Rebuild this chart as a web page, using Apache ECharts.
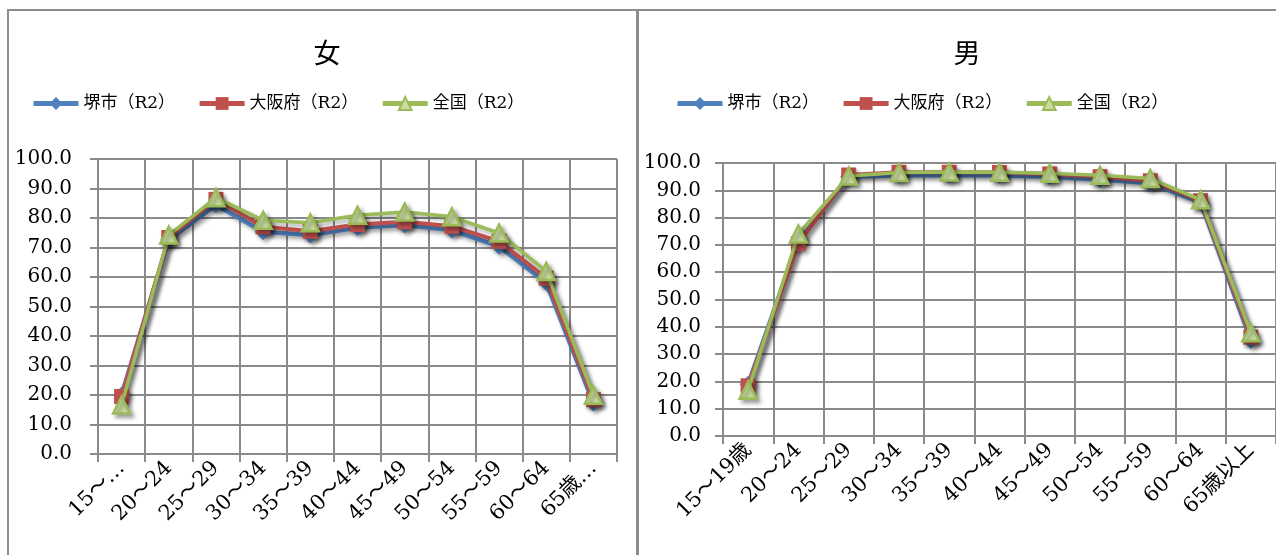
<!DOCTYPE html>
<html><head><meta charset="utf-8">
<script src="https://cdn.jsdelivr.net/npm/echarts@6/dist/echarts.min.js"></script>
<style>html,body{margin:0;padding:0;background:#fff;}#c{width:1276px;height:555px;}</style>
</head><body><div id="c"></div>
<script>
const categories = ['15～19歳','20～24','25～29','30～34','35～39','40～44','45～49','50～54','55～59','60～64','65歳以上'];
const femaleLabels = ['15～…','20～24','25～29','30～34','35～39','40～44','45～49','50～54','55～59','60～64','65歳…'];
const seriesNames = ['堺市（R2）','大阪府（R2）','全国（R2）'];
const yTicks = [0,10,20,30,40,50,60,70,80,90,100];
// 女
const femaleSakai  = [20.0, 72.6, 84.5, 75.3, 74.2, 76.8, 77.6, 75.9, 70.4, 58.1, 17.3];
const femaleOsaka  = [19.5, 73.4, 86.3, 77.0, 75.5, 77.8, 78.7, 77.2, 72.1, 59.6, 18.4];
const femaleZenkoku= [16.6, 74.2, 86.9, 79.2, 78.4, 80.9, 82.0, 80.4, 74.9, 61.9, 19.9];
// 男
const maleSakai    = [19.0, 71.6, 95.0, 95.5, 95.6, 95.5, 95.0, 94.0, 92.6, 85.6, 35.0];
const maleOsaka    = [18.4, 70.5, 95.6, 96.6, 96.6, 96.5, 96.0, 95.0, 93.5, 86.2, 36.2];
const maleZenkoku  = [16.8, 74.0, 95.2, 96.5, 96.7, 96.6, 96.2, 95.5, 94.3, 86.5, 37.8];

const colors = ['#4F81BD','#C0504D','#9BBB59'];
const serifFont = '"DejaVu Serif","Noto Sans CJK JP",serif';
const cjkFont = '"Noto Sans CJK JP","DejaVu Serif",serif';

const chart = echarts.init(document.getElementById('c'));

function mkSeries(name, data, idx, gi) {
  const base = {
    name: name, type: 'line', data: data,
    xAxisIndex: gi, yAxisIndex: gi,
    z: 3 + idx,
    lineStyle: { color: colors[idx], width: idx === 0 ? 4.5 : (idx === 1 ? 4 : 3.5),
      shadowColor: 'rgba(0,0,0,0.35)', shadowBlur: 4, shadowOffsetX: 3, shadowOffsetY: 3 },
    itemStyle: { color: colors[idx],
      shadowColor: 'rgba(0,0,0,0.35)', shadowBlur: 4, shadowOffsetX: 3, shadowOffsetY: 3 },
    emphasis: { disabled: true }
  };
  if (idx === 0) { base.symbol = 'diamond'; base.symbolSize = 17; }
  if (idx === 1) { base.symbol = 'rect'; base.symbolSize = 15; }
  if (idx === 2) {
    base.symbol = 'triangle'; base.symbolSize = 17;
    base.itemStyle = Object.assign({}, base.itemStyle, { color: '#C9DCA0', borderColor: colors[2], borderWidth: 2.5 });
  }
  return base;
}

function xAxisCfg(gi, labels) {
  return {
    type: 'category', gridIndex: gi, data: categories, boundaryGap: true,
    axisLine: { lineStyle: { color: '#8a8a8a', width: 2 } },
    axisTick: { show: true, length: 8, lineStyle: { color: '#8a8a8a', width: 2 } },
    splitLine: { show: true, lineStyle: { color: '#8a8a8a', width: 2 } },
    axisLabel: { interval: 0, rotate: 45, margin: 11, color: '#000', fontFamily: serifFont, fontSize: 21,
      formatter: function (v, i) { return labels[i]; } }
  };
}
function yAxisCfg(gi, m) {
  return {
    type: 'value', gridIndex: gi, min: 0, max: 100, interval: 10,
    axisLine: { show: true, lineStyle: { color: '#8a8a8a', width: 2 } },
    axisTick: { show: true, length: 8, lineStyle: { color: '#8a8a8a', width: 2 } },
    splitLine: { show: true, lineStyle: { color: '#8a8a8a', width: 2 } },
    axisLabel: { color: '#000', fontFamily: serifFont, fontSize: 20, margin: m,
      formatter: function (v) { return yTicks.indexOf(v) >= 0 ? v.toFixed(1) : ''; } }
  };
}

const legendCommon = { itemWidth: 45, itemHeight: 16, itemGap: 22,
  lineStyle: { width: 5 },
  textStyle: { fontFamily: serifFont, fontSize: 17, color: '#000' } };

chart.setOption({
  animation: false,
  backgroundColor: '#fff',
  title: [
    { text: '女', left: 322, top: 34, textAlign: 'center', textStyle: { fontFamily: cjkFont, fontSize: 27, fontWeight: 'normal', color: '#000' } },
    { text: '男', left: 962, top: 34, textAlign: 'center', textStyle: { fontFamily: cjkFont, fontSize: 27, fontWeight: 'normal', color: '#000' } }
  ],
  legend: [
    Object.assign({ data: seriesNames, left: 26, top: 90 }, legendCommon),
    Object.assign({ data: seriesNames, left: 670, top: 90 }, legendCommon)
  ],
  grid: [
    { left: 98, right: 659, top: 159, bottom: 101 },
    { left: 723, right: 0, top: 163, bottom: 119 }
  ],
  xAxis: [ xAxisCfg(0, femaleLabels), xAxisCfg(1, categories) ],
  yAxis: [ yAxisCfg(0, 26), yAxisCfg(1, 22) ],
  series: [
    mkSeries(seriesNames[0], femaleSakai, 0, 0),
    mkSeries(seriesNames[1], femaleOsaka, 1, 0),
    mkSeries(seriesNames[2], femaleZenkoku, 2, 0),
    mkSeries(seriesNames[0], maleSakai, 0, 1),
    mkSeries(seriesNames[1], maleOsaka, 1, 1),
    mkSeries(seriesNames[2], maleZenkoku, 2, 1)
  ],
  graphic: [
    { type: 'rect', shape: { x: 8, y: 10, width: 629, height: 600 }, style: { fill: 'none', stroke: '#8c8c8c', lineWidth: 2 }, silent: true, z: -1 },
    { type: 'rect', shape: { x: 638, y: 10, width: 660, height: 600 }, style: { fill: 'none', stroke: '#8c8c8c', lineWidth: 2 }, silent: true, z: -1 }
  ]
});
</script></body></html>
